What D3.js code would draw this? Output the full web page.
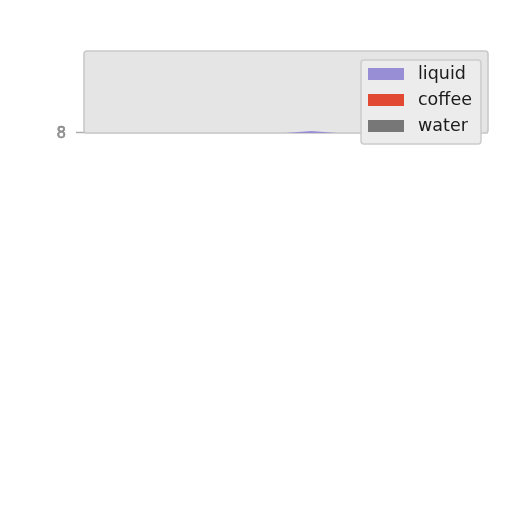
<!DOCTYPE html>
<html><head><meta charset="utf-8">
<script src="https://cdn.jsdelivr.net/npm/d3@7"></script>
<style>body{margin:0;background:#fff}svg{display:block}</style>
</head><body>
<svg id="c" width="512" height="512"></svg>
<script>
// data
const xs = [0,1,2,3,4,5,6,7,8,9,10,11,12,13,14,15,16];
const liquid = [0,0,0,0,0,0,0,0,0,0.1,0,0,0,0,0,0,0];
const coffee = [0,0,0,0,0,0,0,0,0,0,0,0,0,0,0,0,0];
const water  = [0,0,0,0,0,0,0,0,0,0,0,0,0,0,0,0,0];
const seriesNames = ["liquid","coffee","water"];
const seriesColors = ["#988ED5","#E24A33","#777777"];
const yTicks = [8];
const yBase = 8, yTop = 12;

const svg = d3.select("#c");
const L = 84, R = 488, T = 51, B = 133;
const x = d3.scaleLinear().domain([xs[0], xs[xs.length-1]]).range([L, R]);
const y = d3.scaleLinear().domain([yBase, yTop]).range([B, T]);

svg.append("defs").append("filter").attr("id","blur")
  .append("feGaussianBlur").attr("stdDeviation",0.6);

const g = svg.append("g").attr("filter","url(#blur)");
g.append("rect").attr("x",L).attr("y",T).attr("width",R-L).attr("height",B-T)
  .attr("rx",3).attr("fill","#E5E5E5").attr("stroke","#c9c9c9").attr("stroke-width",1.6);

// bottom axis line
g.append("line").attr("x1",L).attr("x2",R).attr("y1",B).attr("y2",B).attr("stroke","#cfcfcf").attr("stroke-width",1.5);

const table = xs.map((d,i)=>({x:d, liquid:liquid[i], coffee:coffee[i], water:water[i]}));
const stack = d3.stack().keys(seriesNames)(table);
const area = d3.area().x(d=>x(d.data.x)).y0(d=>y(yBase+d[0])).y1(d=>y(yBase+d[1]));
g.selectAll("path.s").data(stack).join("path").attr("class","s")
  .attr("d",area).attr("fill",(d,i)=>seriesColors[i]).attr("stroke","none");

const yAxis = d3.axisLeft(y).tickValues(yTicks).tickSize(8).tickFormat(d3.format("d"));
const ya = g.append("g").attr("transform",`translate(${L},-1)`).call(yAxis);
ya.select(".domain").remove();
ya.selectAll("line").attr("stroke","#aaa").attr("stroke-width",1.4);
ya.selectAll("text").attr("font-family","DejaVu Sans").attr("font-size",15).attr("fill","#999")
  .attr("stroke","#777").attr("stroke-width",0.5).attr("x",-18).attr("dy","0.35em");

// legend
const lg = g.append("g");
lg.append("rect").attr("x",361).attr("y",60).attr("width",120).attr("height",84).attr("rx",3)
  .attr("fill","#ECECEC").attr("stroke","#cccccc").attr("stroke-width",1.5);
seriesNames.forEach((n,i)=>{
  const yy = 68 + i*26;
  lg.append("rect").attr("x",368).attr("y",yy).attr("width",36).attr("height",12).attr("fill",seriesColors[i]);
  lg.append("text").attr("x",418).attr("y",yy+11).attr("font-family","DejaVu Sans").attr("font-size",17.5).attr("fill","#1a1a1a").text(n);
});
</script>
</body></html>
